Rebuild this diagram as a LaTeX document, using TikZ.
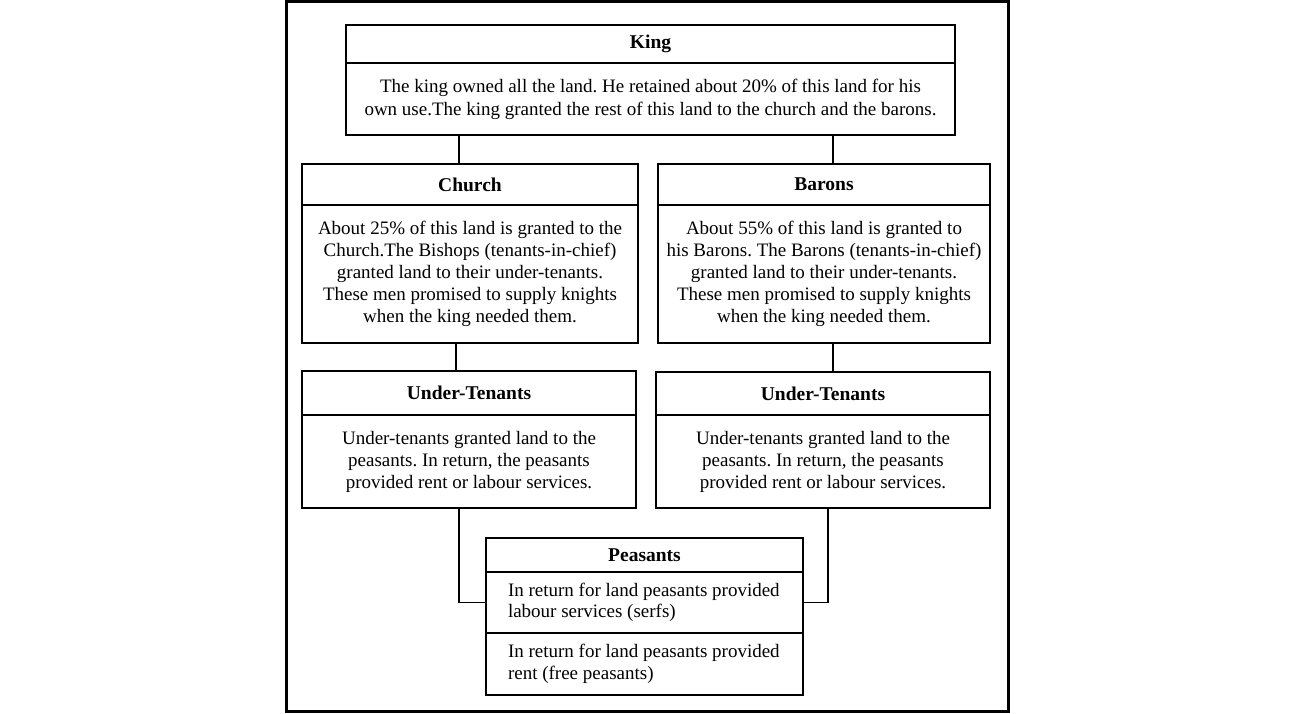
\documentclass[tikz,border=0pt]{standalone}
\usepackage{fontspec}
\setmainfont{Liberation Serif}
\frenchspacing
\begin{document}
\begin{tikzpicture}[x=1pt,y=-1pt,
  box/.style={draw=black,line width=1.6pt,anchor=north west,inner sep=0pt,outer sep=0pt},
  ttl/.style={box,font=\fontsize{19.5}{22}\selectfont\bfseries,align=center},
  bdy/.style={box,font=\fontsize{19}{22}\selectfont,align=center},
  lbdy/.style={box,font=\fontsize{19}{21.5}\selectfont,align=flush left,inner xsep=22pt,text width=273pt},
  conn/.style={draw=black,line width=1.6pt}]
\useasboundingbox (0,0) rectangle (1296,714);
\fill[white] (0,0) rectangle (1296,714);
\draw[line width=3pt] (286,2) rectangle (1008,711);
% King
\node[ttl,minimum width=609pt,minimum height=38pt] (kt) at (346,25) {King};
\node[bdy,font=\fontsize{19}{23}\selectfont,minimum width=609pt,minimum height=72pt] (kb) at (346,63) {The king owned all the land. He retained about 20\% of this land for his\\own use.The king granted the rest of this land to the church and the barons.};
% Church
\node[ttl,minimum width=336pt,minimum height=41pt] (ct) at (302,164) {Church};
\node[bdy,minimum width=336pt,minimum height=138pt] (cb) at (302,205) {About 25\% of this land is granted to the\\Church.The Bishops (tenants-in-chief)\\granted land to their under-tenants.\\These men promised to supply knights\\when the king needed them.};
% Barons
\node[ttl,minimum width=332pt,minimum height=41pt] (bt) at (658,164) {Barons};
\node[bdy,minimum width=332pt,minimum height=138pt] (bb) at (658,205) {About 55\% of this land is granted to\\his Barons. The Barons (tenants-in-chief)\\granted land to their under-tenants.\\These men promised to supply knights\\when the king needed them.};
% Under-tenants left
\node[ttl,minimum width=334pt,minimum height=44pt] (ut1) at (302,371) {Under-Tenants};
\node[bdy,minimum width=334pt,minimum height=93pt] (ub1) at (302,415) {Under-tenants granted land to the\\peasants. In return, the peasants\\provided rent or labour services.};
% Under-tenants right
\node[ttl,minimum width=334pt,minimum height=43pt] (ut2) at (656,372) {Under-Tenants};
\node[bdy,minimum width=334pt,minimum height=93pt] (ub2) at (656,415) {Under-tenants granted land to the\\peasants. In return, the peasants\\provided rent or labour services.};
% Peasants
\node[ttl,minimum width=317pt,minimum height=34pt] (pt) at (486,538) {Peasants};
\node[lbdy,minimum width=317pt,minimum height=61pt] (pb1) at (486,572) {In return for land peasants provided\\labour services (serfs)};
\node[lbdy,minimum width=317pt,minimum height=62pt] (pb2) at (486,633) {In return for land peasants provided\\rent (free peasants)};
% connectors
\draw[conn] ([xshift=113pt]kb.south west) -- ([xshift=113pt]kb.south west |- ct.north);
\draw[conn] ([xshift=487pt]kb.south west) -- ([xshift=487pt]kb.south west |- bt.north);
\draw[conn] ([xshift=154pt]cb.south west) -- ([xshift=154pt]cb.south west |- ut1.north);
\draw[conn] ([xshift=175pt]bb.south west) -- ([xshift=175pt]bb.south west |- ut2.north);
\draw[conn] ([xshift=157pt]ub1.south west) |- (pb1.west);
\draw[conn] ([xshift=172pt]ub2.south west) |- (pb1.east);
\end{tikzpicture}
\end{document}
